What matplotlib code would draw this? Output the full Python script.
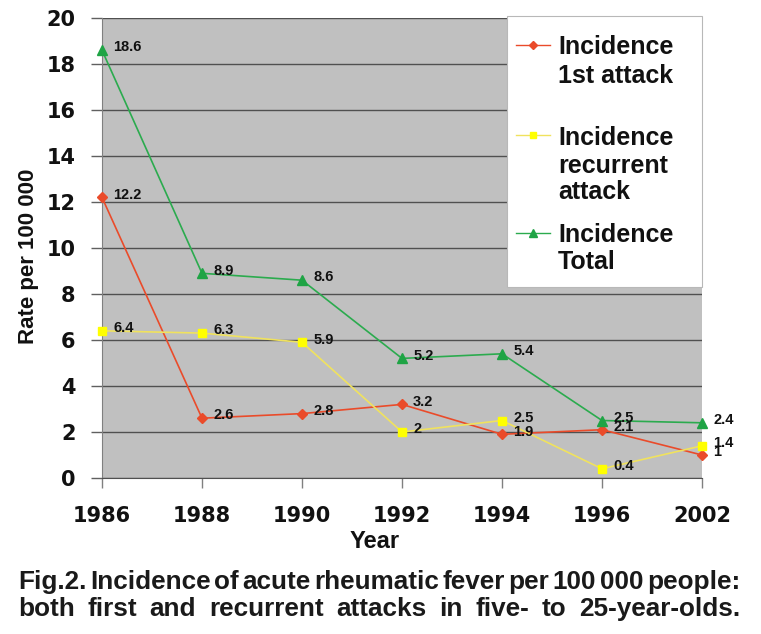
import matplotlib.pyplot as plt
import numpy as np
from matplotlib.lines import Line2D
from matplotlib.patches import Rectangle

years = ["1986", "1988", "1990", "1992", "1994", "1996", "2002"]
first_attack = [12.2, 2.6, 2.8, 3.2, 1.9, 2.1, 1]
recurrent = [6.4, 6.3, 5.9, 2, 2.5, 0.4, 1.4]
total = [18.6, 8.9, 8.6, 5.2, 5.4, 2.5, 2.4]
legend_lines = [["Incidence", "1st attack"],
                ["Incidence", "recurrent", "attack"],
                ["Incidence", "Total"]]
caption = ["Fig.2. Incidence of acute rheumatic fever per 100 000 people:",
           "both first and recurrent attacks in five- to 25-year-olds."]

plt.rcParams["font.family"] = ["Liberation Sans", "DejaVu Sans"]

W, H = 761, 634
fig = plt.figure(figsize=(W / 100, H / 100), dpi=100)


def fx(px):
    return px / W


def fy(py):
    return 1 - py / H


ax = fig.add_axes([fx(102), fy(478), fx(702) - fx(102), (478 - 18) / H])
ax.set_facecolor("#c0c0c0")

x = np.arange(len(years))
series = [
    (first_attack, "#ea4b2a", "#ea4b2a", "D", 5.5),
    (recurrent, "#f0e25e", "#ffff00", "s", 5.5),
    (total, "#2bab4e", "#1fa445", "^", 7.5),
]
for vals, lc, mc, mk, ms in series:
    ax.plot(x, vals, color=lc, lw=1.2, marker=mk, markersize=ms,
            markerfacecolor=mc, markeredgecolor=mc, clip_on=False, zorder=3)
    for xi, v in zip(x, vals):
        ax.annotate(f"{v:g}", (xi, v), xytext=(8, 2), textcoords="offset points",
                    ha="left", va="center", fontsize=10.5, fontweight="bold",
                    color="#111111", zorder=4, annotation_clip=False)

ax.set_xlim(0, 6)
ax.set_ylim(0, 20)
ax.set_yticks(np.arange(0, 21, 2))
ax.set_xticks(x)
ax.set_xticklabels(years)
ax.grid(axis="y", color="#505050", lw=1.0)
ax.set_axisbelow(True)
for s in ["top", "right"]:
    ax.spines[s].set_visible(False)
ax.spines["left"].set_color("#808080")
ax.spines["bottom"].set_color("#505050")
ax.tick_params(axis="y", direction="out", length=8, color="#606060", width=1, pad=11)
ax.tick_params(axis="x", direction="out", length=7, color="#808080", width=1, pad=13)
for t in ax.get_xticklabels() + ax.get_yticklabels():
    t.set_fontfamily("DejaVu Sans")
    t.set_fontweight("bold")
    t.set_fontsize(15)
    t.set_color("#111111")

ax.set_xlabel("Year", fontsize=17, fontweight="bold", va="center", color="#111111")
ax.xaxis.set_label_coords((375 - 102) / 600, (478 - 541) / 460)
ax.set_ylabel("Rate per 100 000", fontsize=16, fontweight="bold", va="center", color="#111111")
ax.yaxis.set_label_coords((29 - 102) / 600, (478 - 256) / 460)

# legend box drawn by hand so each handle sits on the first line of its label
fig.add_artist(Rectangle((fx(507), fy(287)), fx(702) - fx(507), (287 - 16) / H,
                         transform=fig.transFigure, facecolor="white",
                         edgecolor="#b8b8b8", lw=0.8, zorder=5))
handle_y = [45, 135, 233]
baselines = [[54, 83], [145, 173, 199], [242, 269]]
for (vals, lc, mc, mk, ms), hy, lines, bls in zip(series, handle_y, legend_lines, baselines):
    fig.add_artist(Line2D([fx(516), fx(533), fx(550)], [fy(hy)] * 3,
                          transform=fig.transFigure, color=lc, lw=1.0, marker=mk,
                          markersize=ms * 0.8, markevery=[1], markerfacecolor=mc,
                          markeredgecolor=mc, zorder=6))
    for txt, bl in zip(lines, bls):
        fig.text(fx(558), fy(bl), txt, ha="left", va="baseline", fontsize=18,
                 fontweight="bold", color="#111111", zorder=6)

# justified two-line caption
renderer = fig.canvas.get_renderer()
left, right = 18, 740
for line, bl in zip(caption, [589, 616]):
    words = line.split(" ")
    texts = [fig.text(0, fy(bl), w, ha="left", va="baseline", fontsize=18.8,
                      fontweight="bold", color="#1a1a1a") for w in words]
    widths = [t.get_window_extent(renderer).width for t in texts]
    gap = max((right - left - sum(widths)) / (len(words) - 1), 1.0)
    pos = left
    for t, w in zip(texts, widths):
        t.set_x(fx(pos))
        pos += w + gap

fig.savefig("out.png", dpi=100)
